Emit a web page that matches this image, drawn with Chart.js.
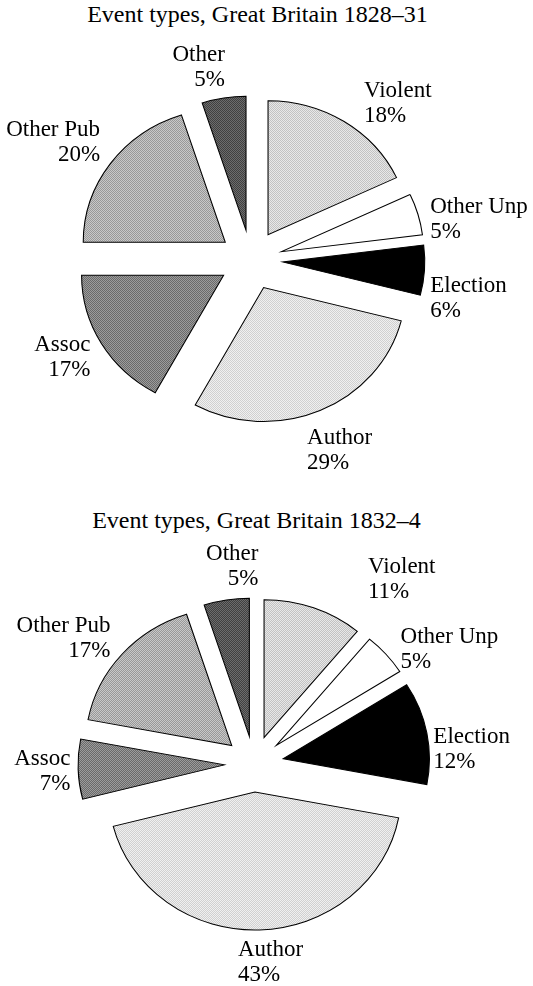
<!DOCTYPE html>
<html>
<head>
<meta charset="utf-8">
<script src="https://cdn.jsdelivr.net/npm/chart.js@4.4.1/dist/chart.umd.min.js"></script>
<style>
  body { margin: 0; background: #fff; width: 533px; height: 986px; position: relative; overflow: hidden;
         font-family: "Liberation Serif", "Times New Roman", serif; color: #000; }
  .title { position: absolute; width: 533px; text-align: center; line-height: 24px; font-size: 24px; }
  .lbl { position: absolute; font-size: 23px; line-height: 25px; white-space: nowrap; }
  canvas { position: absolute; left: 0; }
</style>
</head>
<body>
<div class="title" id="title1" style="left:-9px; top:2px;"></div>
<div class="title" id="title2" style="left:-10px; top:508px;"></div>
<canvas id="pie1828" width="533" height="493" style="top:0;"></canvas>
<canvas id="pie1832" width="533" height="493" style="top:493px;"></canvas>
<script>
const titles = ['Event types, Great Britain 1828–31', 'Event types, Great Britain 1832–4'];
const categories = ['Violent', 'Other Unp', 'Election', 'Author', 'Assoc', 'Other Pub', 'Other'];
const shares1828 = [18, 5, 6, 29, 17, 20, 5];
const shares1832 = [11, 5, 12, 43, 7, 17, 5];

// halftone fills, one per category: [ink, paper] (same ink and paper = solid)
const fills = [
  ['#c2c2c2', '#e8e8e8'],
  ['#ffffff', '#ffffff'],
  ['#000000', '#000000'],
  ['#d0d0d0', '#f0f0f0'],
  ['#6a6a6a', '#9c9c9c'],
  ['#989898', '#c8c8c8'],
  ['#404040', '#6c6c6c']
];

// label nudges in px, per slice
const nudges1828 = [[13, 8], [0, 13], [-7, 25], [-18, 9], [0, -3], [0, -3], [3, 0]];
const nudges1832 = [[50, 1], [5, 15], [-6, 21], [-22, -1], [5, 0], [-2, 4], [34, -3]];

document.getElementById('title1').textContent = titles[0];
document.getElementById('title2').textContent = titles[1];

function dotPattern(ctx, ink, paper) {
  if (ink === paper) return ink;
  const tile = document.createElement('canvas');
  tile.width = 2;
  tile.height = 2;
  const t = tile.getContext('2d');
  t.fillStyle = paper;
  t.fillRect(0, 0, 2, 2);
  t.fillStyle = ink;
  t.fillRect(0, 0, 1, 1);
  t.fillRect(1, 1, 1, 1);
  return ctx.createPattern(tile, 'repeat');
}

// pull every slice out from the centre, pie slightly wider than tall
const explode = {
  id: 'explode',
  beforeDatasetDraw(chart, args, opts) {
    const ctx = chart.ctx;
    args.meta.data.forEach(arc => {
      const mid = (arc.startAngle + arc.endAngle) / 2;
      ctx.save();
      ctx.translate(arc.x, arc.y);
      ctx.scale(opts.stretch, 1);
      ctx.translate(-arc.x, -arc.y);
      ctx.translate(Math.cos(mid) * opts.distance, Math.sin(mid) * opts.distance);
      const fill = arc.options.backgroundColor;
      if (fill instanceof CanvasPattern) fill.setTransform(ctx.getTransform().inverse());
      arc.draw(ctx);
      ctx.restore();
    });
    return false;
  }
};

// two-line "name / nn%" labels outside each slice, placed from the arc geometry
function addLabels(chart, nudges, gap) {
  const meta = chart.getDatasetMeta(0);
  const values = chart.data.datasets[0].data;
  const ex = chart.options.plugins.explode;
  const top = chart.canvas.offsetTop;
  meta.data.forEach((arc, i) => {
    const mid = (arc.startAngle + arc.endAngle) / 2;
    const ux = Math.cos(mid);
    const uy = Math.sin(mid);
    const reach = ex.distance + arc.outerRadius + gap;
    const x = arc.x + ex.stretch * reach * ux + nudges[i][0];
    const c = arc.y + reach * uy + uy * 20 + nudges[i][1];
    const div = document.createElement('div');
    div.className = 'lbl';
    div.innerHTML = chart.data.labels[i] + '<br>' + values[i] + '%';
    div.style.top = (top + c - 25.3) + 'px';
    if (ux >= 0) {
      div.style.left = x + 'px';
      div.style.textAlign = 'left';
    } else {
      div.style.right = (533 - x) + 'px';
      div.style.textAlign = 'right';
    }
    document.body.appendChild(div);
  });
}

function makePie(id, values, radius, distance, padding) {
  const canvas = document.getElementById(id);
  const ctx = canvas.getContext('2d');
  return new Chart(ctx, {
    type: 'pie',
    data: {
      labels: categories,
      datasets: [{
        data: values,
        backgroundColor: fills.map(f => dotPattern(ctx, f[0], f[1])),
        borderColor: '#000',
        borderWidth: 1,
        borderJoinStyle: 'miter',
        offset: 0,
        hoverOffset: 0
      }]
    },
    options: {
      responsive: false,
      devicePixelRatio: 1,
      animation: false,
      events: [],
      radius: radius,
      layout: { padding: padding },
      plugins: {
        legend: { display: false },
        tooltip: { enabled: false },
        explode: { distance: distance, stretch: 1.06 }
      }
    },
    plugins: [explode]
  });
}

const pie1828 = makePie('pie1828', shares1828, 134, 30, { left: 0, right: 31, top: 27, bottom: 0 });
const pie1832 = makePie('pie1832', shares1832, 138, 28, { left: 0, right: 25, top: 49, bottom: 0 });
addLabels(pie1828, nudges1828, 12);
addLabels(pie1832, nudges1832, 12);
</script>
</body>
</html>
